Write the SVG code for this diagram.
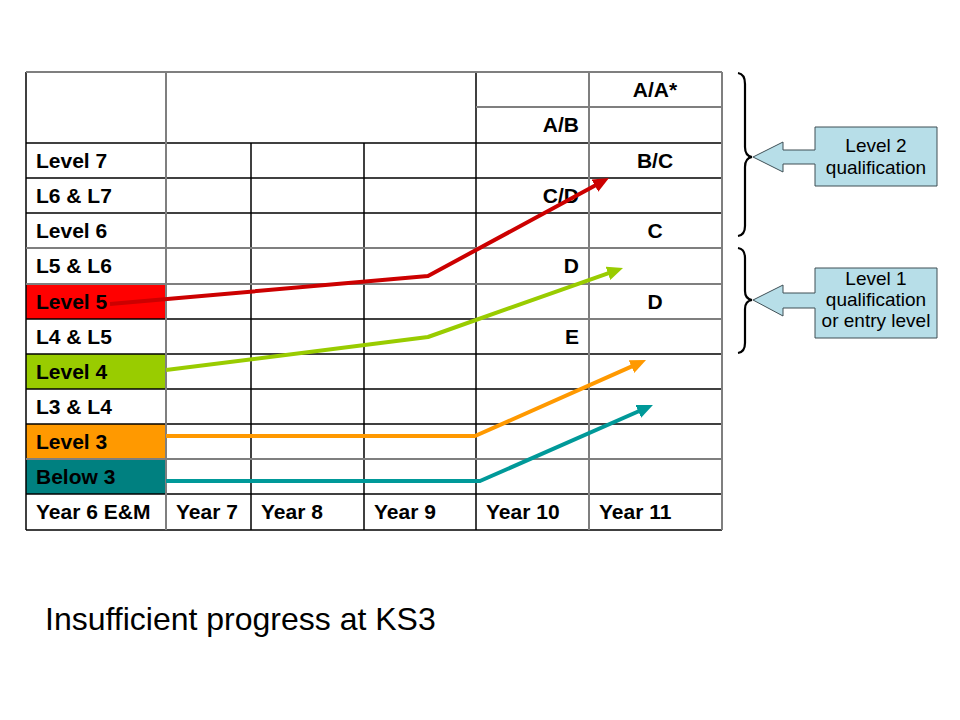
<svg xmlns="http://www.w3.org/2000/svg" width="960" height="720" viewBox="0 0 960 720">
<defs>
<style>
.t{font-family:"Liberation Sans",Arial,sans-serif;font-weight:bold;font-size:21px;fill:#000}
.c{font-family:"Liberation Sans",Arial,sans-serif;font-size:19px;fill:#000;text-anchor:middle}
.cap{font-family:"Liberation Sans",Arial,sans-serif;font-size:32px;fill:#000}
.gk{stroke:#000;stroke-width:1.5}
.gg{stroke:#7f7f7f;stroke-width:2}
.ln{fill:none;stroke-width:4;stroke-linejoin:round}
.brace{fill:none;stroke:#000;stroke-width:2.2}
.call{fill:#b7dee8;stroke:#3f4f55;stroke-width:1}
</style>
<marker id="aR" markerUnits="userSpaceOnUse" markerWidth="16" markerHeight="14" viewBox="0 0 16 14" refX="6" refY="7" orient="auto"><path d="M0,0 L16,7 L0,14 z" fill="#cc0000"/></marker>
<marker id="aG" markerUnits="userSpaceOnUse" markerWidth="16" markerHeight="14" viewBox="0 0 16 14" refX="6" refY="7" orient="auto"><path d="M0,0 L16,7 L0,14 z" fill="#99cc00"/></marker>
<marker id="aO" markerUnits="userSpaceOnUse" markerWidth="16" markerHeight="14" viewBox="0 0 16 14" refX="6" refY="7" orient="auto"><path d="M0,0 L16,7 L0,14 z" fill="#ff9900"/></marker>
<marker id="aT" markerUnits="userSpaceOnUse" markerWidth="16" markerHeight="14" viewBox="0 0 16 14" refX="6" refY="7" orient="auto"><path d="M0,0 L16,7 L0,14 z" fill="#009999"/></marker>
</defs>
<rect width="960" height="720" fill="#fff"/>

<g id="table">
<rect x="26" y="284" width="140" height="35" fill="#ff0000"/>
<rect x="26" y="354" width="140" height="35" fill="#99cc00"/>
<rect x="26" y="424" width="140" height="35" fill="#ff9900"/>
<rect x="26" y="459" width="140" height="35" fill="#008080"/>
<g class="gk">
<line x1="26" y1="143" x2="722" y2="143"/>
<line x1="26" y1="178" x2="722" y2="178"/>
<line x1="26" y1="213" x2="722" y2="213"/>
<line x1="26" y1="319" x2="476" y2="319"/>
<line x1="26" y1="354" x2="722" y2="354"/>
<line x1="26" y1="389" x2="722" y2="389"/>
<line x1="26" y1="424" x2="722" y2="424"/>
<line x1="26" y1="494" x2="722" y2="494"/>
<line x1="26" y1="530" x2="722" y2="530"/>
<line x1="26" y1="72" x2="26" y2="530"/>
<line x1="251" y1="143" x2="251" y2="530"/>
<line x1="364" y1="143" x2="364" y2="530"/>
<line x1="476" y1="72" x2="476" y2="530"/>
</g>
<g class="gg">
<line x1="26" y1="72" x2="722" y2="72"/>
<line x1="476" y1="107" x2="722" y2="107"/>
<line x1="26" y1="248" x2="722" y2="248"/>
<line x1="26" y1="284" x2="722" y2="284"/>
<line x1="476" y1="319" x2="722" y2="319"/>
<line x1="26" y1="459" x2="722" y2="459"/>
<line x1="166" y1="72" x2="166" y2="530"/>
<line x1="589" y1="72" x2="589" y2="530"/>
<line x1="722" y1="72" x2="722" y2="530"/>
</g>
<g class="t">
<text x="36" y="168">Level 7</text>
<text x="36" y="203">L6 &amp; L7</text>
<text x="36" y="238">Level 6</text>
<text x="36" y="273">L5 &amp; L6</text>
<text x="36" y="309">Level 5</text>
<text x="36" y="344">L4 &amp; L5</text>
<text x="36" y="379">Level 4</text>
<text x="36" y="414">L3 &amp; L4</text>
<text x="36" y="449">Level 3</text>
<text x="36" y="484">Below 3</text>
<text x="36" y="519">Year 6 E&amp;M</text>
<text x="176" y="519">Year 7</text>
<text x="261" y="519">Year 8</text>
<text x="374" y="519">Year 9</text>
<text x="486" y="519">Year 10</text>
<text x="599" y="519">Year 11</text>
<g text-anchor="end">
<text x="579" y="132">A/B</text>
<text x="579" y="203">C/D</text>
<text x="579" y="273">D</text>
<text x="579" y="344">E</text>
</g>
<g text-anchor="middle">
<text x="655" y="97">A/A*</text>
<text x="655" y="168">B/C</text>
<text x="655" y="238">C</text>
<text x="655" y="309">D</text>
</g>
</g>
</g>

<g id="connectors">
<polyline class="ln" stroke="#cc0000" points="110,304 428,276 600.2,182.8" marker-end="url(#aR)"/>
<polyline class="ln" stroke="#99cc00" points="166,370 428,337 613.6,271.3" marker-end="url(#aG)"/>
<polyline class="ln" stroke="#ff9900" points="166,436 475,436 636.9,364.1" marker-end="url(#aO)"/>
<polyline class="ln" stroke="#009999" points="166,481 480,481 643.8,409" marker-end="url(#aT)"/>
</g>

<g id="brace-level2">
<path class="brace" d="M738,73 Q745,74 745,84 L745,147 Q745,156 752,157 Q745,158 745,167 L745,226 Q745,235 738,236"/>
</g>
<g id="brace-level1">
<path class="brace" d="M738,248 Q745,249 745,258 L745,291 Q745,299 752,300 Q745,301 745,309 L745,343 Q745,352 738,353"/>
</g>

<g id="callout-level2">
<path class="call" d="M815,127 L937,127 L937,186 L815,186 L815,164 L783,164 L783,172 L753,157 L783,142 L783,150 L815,150 Z"/>
<text class="c" x="876" y="152">Level 2</text>
<text class="c" x="876" y="174">qualification</text>
</g>
<g id="callout-level1">
<path class="call" d="M815,268 L937,268 L937,338 L815,338 L815,308 L783,308 L783,316 L753,300 L783,285 L783,293 L815,293 Z"/>
<text class="c" x="876" y="285">Level 1</text>
<text class="c" x="876" y="306">qualification</text>
<text class="c" x="876" y="327">or entry level</text>
</g>

<text id="caption" class="cap" x="45" y="630">Insufficient progress at KS3</text>
</svg>
